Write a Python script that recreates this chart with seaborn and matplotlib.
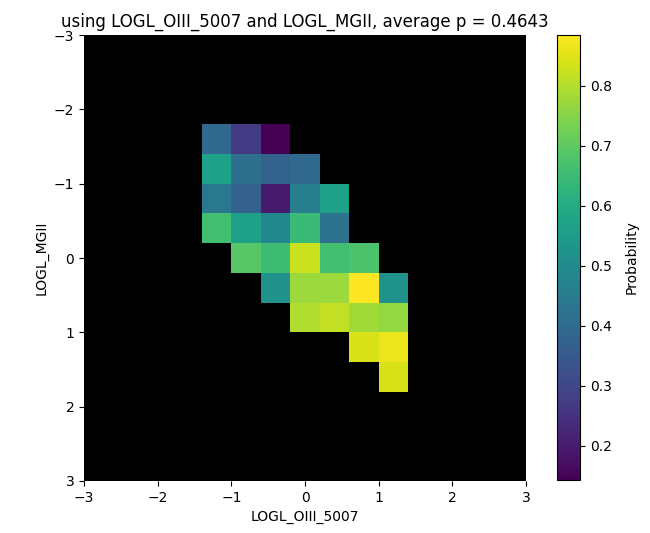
import numpy as np
import pandas as pd
import matplotlib
matplotlib.use("Agg")
import matplotlib.pyplot as plt
import seaborn as sns

# Bin centres (LOGL_OIII_5007 on x, LOGL_MGII on y) and the probability in each occupied bin
oiii = [-1.2, -0.8, -0.4,
        -1.2, -0.8, -0.4, 0.0,
        -1.2, -0.8, -0.4, 0.0, 0.4,
        -1.2, -0.8, -0.4, 0.0, 0.4,
        -0.8, -0.4, 0.0, 0.4, 0.8,
        -0.4, 0.0, 0.4, 0.8, 1.2,
        0.0, 0.4, 0.8, 1.2,
        0.8, 1.2,
        1.2]
mgii = [-1.6, -1.6, -1.6,
        -1.2, -1.2, -1.2, -1.2,
        -0.8, -0.8, -0.8, -0.8, -0.8,
        -0.4, -0.4, -0.4, -0.4, -0.4,
        0.0, 0.0, 0.0, 0.0, 0.0,
        0.4, 0.4, 0.4, 0.4, 0.4,
        0.8, 0.8, 0.8, 0.8,
        1.2, 1.2,
        1.6]
prob = [0.39, 0.27, 0.143,
        0.565, 0.41, 0.375, 0.39,
        0.44, 0.37, 0.195, 0.46, 0.565,
        0.66, 0.565, 0.49, 0.645, 0.42,
        0.69, 0.655, 0.825, 0.66, 0.675,
        0.515, 0.774, 0.774, 0.885, 0.52,
        0.796, 0.818, 0.78, 0.766,
        0.84, 0.863,
        0.84]

tick_values = [-3, -2, -1, 0, 1, 2, 3]
title = "using LOGL_OIII_5007 and LOGL_MGII, average p = 0.4643"

# Regular grid of 0.4-wide bins spanning [-3, 3] on both axes
lo, hi, width = -3.0, 3.0, 0.4
nbins = int(round((hi - lo) / width))
centres = np.round(lo + width * (np.arange(nbins) + 0.5), 2)

df = pd.DataFrame({"oiii": oiii, "mgii": mgii, "p": prob})
grid = (df.pivot(index="mgii", columns="oiii", values="p")
          .reindex(index=centres, columns=centres))

fig = plt.figure(figsize=(6.5, 5.33), dpi=100)
ax = fig.add_axes([84 / 650, 52 / 533, 442 / 650, 446 / 533])
cax = fig.add_axes([557 / 650, 53 / 533, 23 / 650, 445 / 533])

sns.heatmap(grid, cmap="viridis", ax=ax, cbar_ax=cax,
            xticklabels=False, yticklabels=False,
            cbar_kws={"label": "Probability"})
ax.set_facecolor("black")

# Map data coordinates onto heatmap cell positions
pos = [(v - lo) / width for v in tick_values]
labels = [str(v).replace("-", "\u2212") for v in tick_values]
ax.set_xticks(pos)
ax.set_xticklabels(labels, rotation=0)
ax.set_yticks(pos)
ax.set_yticklabels(labels, rotation=0)
ax.tick_params(length=3.5, width=0.8, labelsize=10)
ax.set_xlim(0, nbins)
ax.set_ylim(nbins, 0)
ax.set_xlabel("LOGL_OIII_5007", fontsize=10)
ax.set_ylabel("LOGL_MGII", fontsize=10)
ax.set_title(title, fontsize=12)

cb = ax.collections[0].colorbar
cb.outline.set_linewidth(0.8)
cb.outline.set_edgecolor("black")
cb.ax.tick_params(labelsize=10, length=3.5, width=0.8)
cb.set_label("Probability", fontsize=10, labelpad=9)

fig.savefig("out.png", dpi=100)
